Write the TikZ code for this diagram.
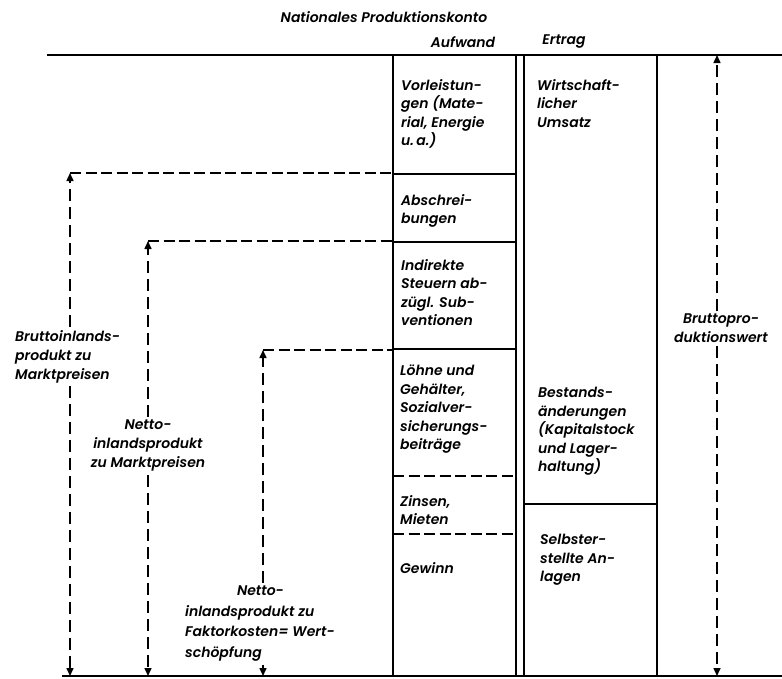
\documentclass[tikz,border=0pt]{standalone}
\usepackage{fontspec}
\setmainfont{Poppins}[UprightFont=* Medium, ItalicFont=* SemiBold Italic]
\usepackage{tikz}
\usetikzlibrary{arrows.meta, positioning}

\tikzset{
  boxtxt/.style={inner sep=0pt, align=left, anchor=north west, font=\fontsize{14}{18.5}\selectfont\itshape},
  dimlab/.style={inner sep=3pt, font=\fontsize{14}{19}\selectfont\itshape},
  rule/.style={line width=1.6pt},
  hdash/.style={line width=1.5pt, dash pattern=on 11pt off 4.5pt},
  vdash/.style={line width=1.5pt, dash pattern=on 12pt off 6pt},
}

\begin{document}
\begin{tikzpicture}[x=1pt, y=-1pt, >={Triangle[length=8pt, width=7pt]}]
\useasboundingbox (0,0) rectangle (782,678);

% Headings
\node[dimlab] (title) at (384,17) {Nationales Produktionskonto};
\node[dimlab] (aufwand) at (463,42) {Aufwand};
\node[dimlab] (ertrag) at (564,42) {Ertrag};

% Account frame
\draw[rule] (47,55) -- (782,55);
\draw[rule] (62,676) -- (782,676);
\foreach \x in {393,516,524,657}
  \draw[rule] (\x,55) -- (\x,676);

% Aufwand side
\draw[rule] (393,174) -- (516,174);
\draw[rule] (393,242) -- (516,242);
\draw[rule] (393,349) -- (516,349);
\draw[hdash] (393,476) -- (516,476);
\draw[hdash] (393,534) -- (516,534);

% Ertrag side
\draw[rule] (524,504) -- (657,504);

% Box texts
\node[boxtxt] (vorl) at (401,79) {Vorleistun-\\gen (Mate-\\rial, Energie\\u.\,a.)};
\node[boxtxt] (abschr) at (401,194) {Abschrei-\\bungen};
\node[boxtxt] (indir) at (401,259) {Indirekte\\Steuern ab-\\zügl. Sub-\\ventionen};
\node[boxtxt] (loehne) at (400,365) {Löhne und\\Gehälter,\\Sozialver-\\sicherungs-\\beiträge};
\node[boxtxt] (zinsen) at (400,495) {Zinsen,\\Mieten};
\node[boxtxt] (gewinn) at (400,562) {Gewinn};
\node[boxtxt] (umsatz) at (537,79) {Wirtschaft-\\licher\\Umsatz};
\node[boxtxt] (bestand) at (538,387) {Bestands-\\änderungen\\(Kapitalstock\\und Lager-\\haltung)};
\node[boxtxt] (selbst) at (540,534) {Selbster-\\stellte An-\\lagen};

% Arrow end points
\coordinate (c1) at (70,173);
\coordinate (c2) at (148,241);
\coordinate (c3) at (263,350);
\coordinate (t4) at (717,55);
\coordinate (e1) at (393,173);
\coordinate (e2) at (393,241);
\coordinate (e3) at (393,350);
\coordinate (b1) at (70,676);
\coordinate (b2) at (148,676);
\coordinate (b3) at (263,676);
\coordinate (b4) at (717,676);

% Dimension labels
\node[dimlab, align=left, anchor=north west] (bip) at (12,327) {Bruttoinlands-\\produkt zu\\Marktpreisen};
\node[dimlab, align=center, anchor=north] (nipm) at (148,417) {Netto-\\inlandsprodukt\\zu Marktpreisen};
\node[dimlab, align=left, anchor=north west, font=\fontsize{14}{20.5}\selectfont\itshape] (nifk) at (182,583) {\hspace*{3.7em}Netto-\\inlandsprodukt zu\\Faktorkosten= Wert-\\schöpfung};
\node[dimlab, align=center, anchor=north] (bpw) at (721,311) {Bruttopro-\\duktionswert};

% Dashed guides to the boxes
\draw[hdash] (c1) -- (e1);
\draw[hdash] (c2) -- (e2);
\draw[hdash] (c3) -- (e3);

% Vertical arrows
\draw[vdash, ->] (c1 |- bip.north) -- (c1);
\draw[vdash, ->] (c1 |- bip.south) -- (b1);
\draw[vdash, ->] (nipm.north) -- (c2);
\draw[vdash, ->] (c2 |- nipm.south) -- (b2);
\draw[vdash, ->] (c3 |- nifk.north) -- (c3);
\draw[line width=1.5pt, ->] (c3 |- nifk.south) -- (b3);
\draw[vdash, ->] (t4 |- bpw.north) -- (t4);
\draw[vdash, ->] (t4 |- bpw.south) -- (b4);

\end{tikzpicture}
\end{document}
